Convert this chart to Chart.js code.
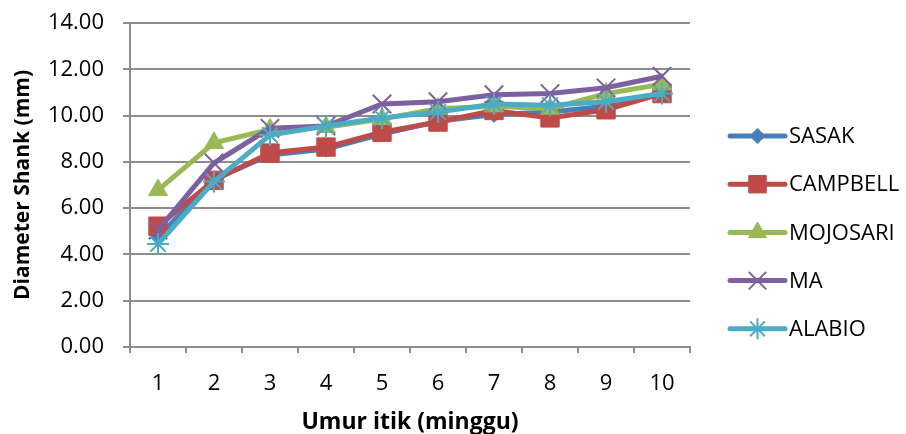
<!DOCTYPE html>
<html>
<head>
<meta charset="utf-8">
<script src="https://cdn.jsdelivr.net/npm/chart.js@4/dist/chart.umd.min.js"></script>
<style>
html,body{margin:0;padding:0;background:#fff;}
#wrap{width:906px;height:434px;}
</style>
</head>
<body>
<div id="wrap"><canvas id="c" width="906" height="434"></canvas></div>
<script>
const weeks = ["1","2","3","4","5","6","7","8","9","10"];
const sasak    = [4.75, 7.25, 8.30, 8.55, 9.20, 9.75, 10.05, 10.15, 10.40, 10.95];
const campbell = [5.22, 7.20, 8.38, 8.64, 9.28, 9.72, 10.22, 9.90, 10.25, 10.95];
const mojosari = [6.78, 8.82, 9.40, 9.50, 9.85, 10.30, 10.40, 10.30, 10.95, 11.35];
const ma       = [5.05, 7.95, 9.45, 9.55, 10.50, 10.60, 10.90, 10.95, 11.20, 11.70];
const alabio   = [4.45, 7.15, 9.16, 9.55, 9.90, 10.15, 10.50, 10.45, 10.60, 10.95];
const yTicks = [0, 2, 4, 6, 8, 10, 12, 14];

const FONT = "'Open Sans', 'Liberation Sans', sans-serif";
const GRID = '#8c8c8c';

const series = [
  {label:'SASAK',    data:sasak,    color:'#4A7EBB', style:'rectRot', r:8,  bw:1, order:4},
  {label:'CAMPBELL', data:campbell, color:'#BE4B48', style:'rect',    r:13, bw:1, order:3},
  {label:'MOJOSARI', data:mojosari, color:'#98B954', style:'triangle',r:11, bw:1, order:2},
  {label:'MA',       data:ma,       color:'#7D60A0', style:'crossRot',r:13, bw:2, order:1},
  {label:'ALABIO',   data:alabio,   color:'#4BACC6', style:'star',    r:11, bw:2, order:0}
];

const legendPlugin = {
  id:'sideLegend',
  afterDraw(chart){
    const ctx = chart.ctx;
    const ca = chart.chartArea;
    const x0 = ca.right + 40, x1 = x0 + 55, xm = (x0 + x1)/2;
    const yStart = 136, step = 48.2;
    ctx.save();
    series.forEach((s, i) => {
      const y = yStart + i*step;
      ctx.strokeStyle = s.color;
      ctx.lineWidth = 5;
      ctx.lineCap = 'round';
      ctx.beginPath(); ctx.moveTo(x0, y); ctx.lineTo(x1, y); ctx.stroke();
      ctx.lineCap = 'butt';
      ctx.fillStyle = s.color;
      ctx.strokeStyle = s.color;
      ctx.lineWidth = s.bw;
      Chart.helpers.drawPoint(ctx, {pointStyle:s.style, radius:s.r*0.95, rotation:0, borderWidth:s.bw}, xm, y);
      ctx.fillStyle = '#000';
      ctx.font = "22px " + FONT;
      ctx.textBaseline = 'middle';
      ctx.textAlign = 'left';
      ctx.fillText(s.label, x1 + 4, y + 1);
    });
    ctx.restore();
  }
};

new Chart(document.getElementById('c'), {
  type:'line',
  data:{
    labels:weeks,
    datasets:series.map(s => ({
      label:s.label,
      data:s.data,
      borderColor:s.color,
      backgroundColor:s.color,
      borderWidth:5,
      pointStyle:s.style,
      pointRadius:s.r,
      pointBorderWidth:s.bw,
      pointBackgroundColor:s.color,
      pointBorderColor:s.color,
      tension:0,
      order:s.order
    }))
  },
  options:{
    responsive:false,
    animation:false,
    events:[],
    layout:{autoPadding:false, padding:{left:0, right:216, top:23, bottom:0}},
    plugins:{legend:{display:false}, tooltip:{enabled:false}},
    scales:{
      x:{
        offset:true,
        afterFit(scale){ scale.height = 87; },
        grid:{display:true, drawOnChartArea:false, drawTicks:true, tickLength:6, offset:true, color:GRID, lineWidth:2},
        border:{display:true, color:GRID, width:2},
        ticks:{color:'#000', font:{family:FONT, size:22}, padding:18},
        title:{display:true, text:'Umur itik (minggu)', color:'#000', font:{family:FONT, size:23, weight:'bold'}, padding:{top:0, bottom:-2}}
      },
      y:{
        min:0, max:14,
        afterFit(scale){ scale.width = 130; scale.paddingTop = 0; scale.paddingBottom = 0; },
        afterBuildTicks(axis){ axis.ticks = yTicks.map(v => ({value:v})); },
        grid:{color:GRID, lineWidth:2, drawTicks:true, tickLength:7},
        border:{display:true, color:GRID, width:2},
        ticks:{color:'#000', font:{family:FONT, size:22}, padding:19, callback:v => Number(v).toFixed(2)},
        title:{display:true, text:'Diameter Shank (mm)', color:'#000', font:{family:FONT, size:21, weight:'bold'}, padding:{top:10, bottom:0}}
      }
    }
  },
  plugins:[legendPlugin]
});
</script>
</body>
</html>
